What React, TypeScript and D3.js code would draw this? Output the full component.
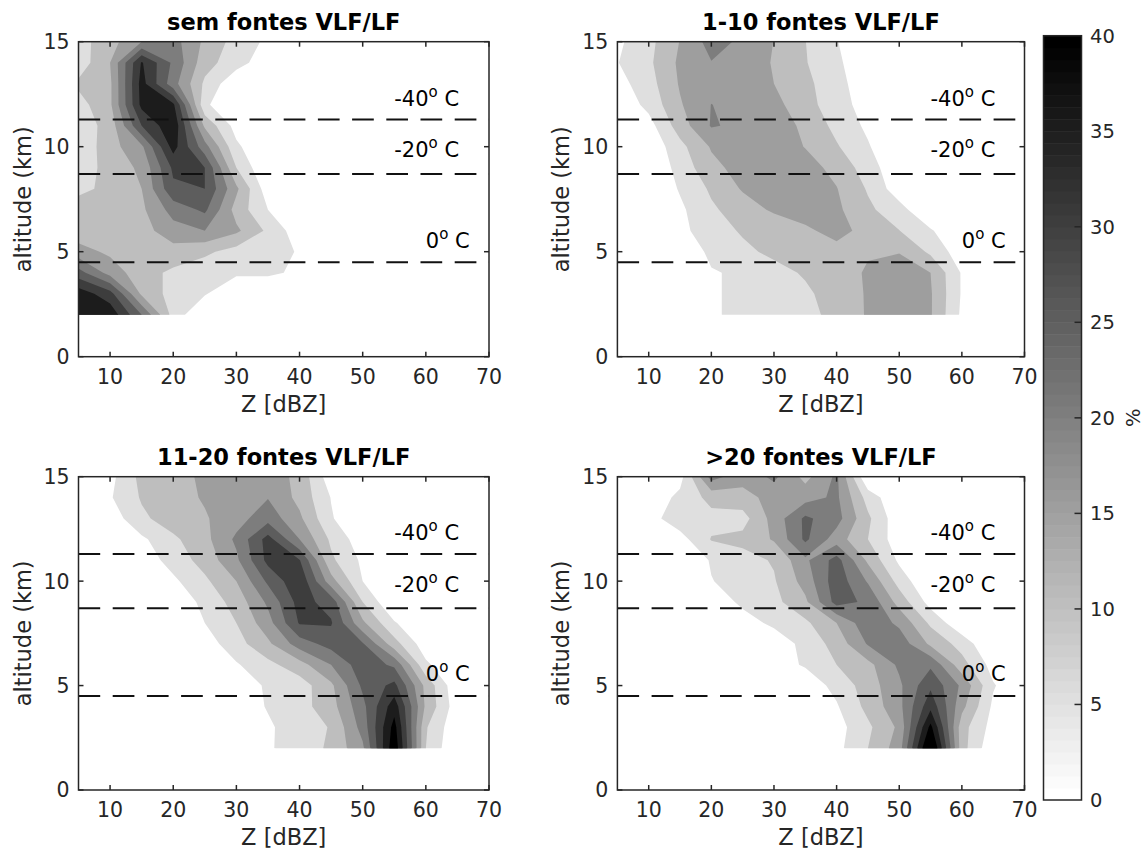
import React from 'react';
import * as d3 from 'd3';

// ---- data -------------------------------------------------------------
const dbzBins = [5, 10, 15, 20, 25, 30, 35, 40, 45, 50, 55, 60, 65, 70];
const altBins = [15, 14, 13, 12, 11, 10, 9, 8, 7, 6, 5, 4, 3, 2];

// frequency (%) per altitude row (top = 15 km) and reflectivity column
const semFontes = [
  [8, 13, 20, 22, 14, 8, 4, 0, 0, 0, 0, 0, 0, 0],
  [7, 15, 35.5, 24, 12, 7, 2, 0, 0, 0, 0, 0, 0, 0],
  [11, 14, 37, 22, 9, 1, 0, 0, 0, 0, 0, 0, 0, 0],
  [8, 14, 36.5, 36, 6, 0, 0, 0, 0, 0, 0, 0, 0, 0],
  [7, 12, 30, 39, 14, 3, 0, 0, 0, 0, 0, 0, 0, 0],
  [6, 13, 19, 37, 22, 6, 0, 0, 0, 0, 0, 0, 0, 0],
  [7, 12, 16, 31, 30, 10, 0, 0, 0, 0, 0, 0, 0, 0],
  [9, 11, 15, 29, 30, 16, 2, 0, 0, 0, 0, 0, 0, 0],
  [12, 12, 14, 22, 26, 13, 5, 0, 0, 0, 0, 0, 0, 0],
  [12, 12, 13, 18, 20, 16, 9, 2, 0, 0, 0, 0, 0, 0],
  [17, 14, 13, 13, 11, 8, 7, 4.6, 0, 0, 0, 0, 0, 0],
  [27, 18, 12, 9, 7, 6, 6, 4, 0, 0, 0, 0, 0, 0],
  [38, 32, 14, 8, 5.5, 0, 0, 0, 0, 0, 0, 0, 0, 0],
  [39, 38.5, 25, 8, 0, 0, 0, 0, 0, 0, 0, 0, 0, 0],
];

const fontes1a10 = [
  [4, 8.5, 15.2, 22, 19, 14.9, 10.1, 5.3, 0, 0, 0, 0, 0, 0],
  [4.8, 9, 16, 19.8, 18, 14.6, 10.3, 6.3, 0, 0, 0, 0, 0, 0],
  [3, 8, 15.5, 18, 18, 15, 11, 7.5, 0.5, 0, 0, 0, 0, 0],
  [1, 6.5, 14.5, 20.1, 18, 16.5, 12, 7, 3, 0, 0, 0, 0, 0],
  [0, 3, 12.5, 20.4, 19, 17.5, 14, 8.5, 4, 0, 0, 0, 0, 0],
  [0, 1, 8.5, 15.5, 19, 18, 14.8, 10.5, 5.5, 0, 0, 0, 0, 0],
  [0, 0, 7, 13.5, 17, 18.5, 17, 13.5, 7.5, 1, 0, 0, 0, 0],
  [0, 0, 5.5, 10.8, 15.5, 17.5, 17.5, 15.2, 9.5, 2, 0, 0, 0, 0],
  [0, 0, 4, 9.2, 12.5, 15.8, 17, 16, 11, 7, 0, 0, 0, 0],
  [0, 0, 3.5, 8, 10.5, 11.5, 14.2, 16.5, 13.5, 10.1, 5.6, 0, 0, 0],
  [0, 0, 0, 6.5, 9, 11, 12.5, 13.5, 14.6, 14.8, 9, 2, 0, 0],
  [0, 0, 0, 4.5, 6, 8.5, 10.5, 13, 15.5, 17, 15, 4.5, 0, 0],
  [0, 0, 0, 4.5, 6, 7.5, 9.2, 12, 15.5, 17.5, 15.5, 4.5, 0, 0],
  [0, 0, 0, 4.5, 6, 7, 8.5, 11.5, 15.5, 17, 15.5, 4, 0, 0],
];

const fontes11a20 = [
  [0, 3.5, 11.5, 13, 16, 18, 18, 13.5, 2, 0, 0, 0, 0, 0],
  [0, 4.5, 10.5, 13, 15.5, 18.5, 19.8, 13.5, 4.8, 0, 0, 0, 0, 0],
  [0, 2, 9, 12.5, 14.5, 18, 23, 16, 5.5, 0, 0, 0, 0, 0],
  [0, 0, 4, 9, 13.5, 21, 32, 20, 9, 2, 0, 0, 0, 0],
  [0, 0, 2, 7, 12, 19, 31.5, 30.3, 11, 4, 0, 0, 0, 0],
  [0, 0, 0, 4, 9, 15, 26, 34, 17, 5, 0, 0, 0, 0],
  [0, 0, 0, 1, 6.5, 12, 21, 32, 28, 10, 0, 0, 0, 0],
  [0, 0, 0, 0, 5, 10, 18, 30.5, 30.5, 16, 5.5, 0, 0, 0],
  [0, 0, 0, 0, 2.5, 8, 14, 22.5, 27, 25.5, 12, 2, 0, 0],
  [0, 0, 0, 0, 0, 4.5, 8.5, 13, 20, 28, 24, 6, 0, 0],
  [0, 0, 0, 0, 0, 1, 6, 7.5, 14, 26, 31.5, 13.5, 1, 0],
  [0, 0, 0, 0, 0, 1, 5.5, 8, 13, 23.5, 38, 14, 2, 0],
  [0, 0, 0, 0, 0, 0, 4, 8.5, 10.2, 22, 42, 10.5, 1, 0],
  [0, 0, 0, 0, 0, 0, 4.5, 7, 11, 19, 44, 10, 0, 0],
];

const fontesMais20 = [
  [0, 0, 3, 22, 17, 21, 13.5, 21, 0, 0, 0, 0, 0, 0],
  [0, 1, 6.5, 11.5, 13, 17, 18, 21, 8, 0.5, 0, 0, 0, 0],
  [0, 3, 8, 8.5, 8, 17, 26, 22, 11, 1.5, 0, 0, 0, 0],
  [0, 0, 3, 10.3, 11.5, 15.5, 26, 17.5, 10, 2, 0, 0, 0, 0],
  [0, 0, 0, 5.5, 8, 10.5, 19, 27, 14, 4, 0, 0, 0, 0],
  [0, 0, 0, 4.8, 7, 9.5, 17, 28, 19.5, 8, 0, 0, 0, 0],
  [0, 0, 0, 2, 6, 8.5, 14, 27, 24, 13, 3, 0, 0, 0],
  [0, 0, 0, 0, 3, 6, 9, 15, 23.5, 19, 9, 1, 0, 0],
  [0, 0, 0, 0, 0, 2, 6.5, 12, 20.5, 23, 14, 8, 0, 0],
  [0, 0, 0, 0, 0, 3, 5.5, 10, 13.5, 21, 24, 12, 3, 0],
  [0, 0, 0, 0, 0, 0, 2, 6.5, 12.5, 19, 29, 19, 5.5, 0],
  [0, 0, 0, 0, 0, 0, 0, 4.5, 11.5, 18.5, 33.5, 16.5, 4, 0],
  [0, 0, 0, 0, 0, 0, 0, 3, 9, 16, 41.5, 12, 3, 0],
  [0, 0, 0, 0, 0, 0, 0, 3.5, 10, 17.5, 48, 12, 1, 0],
];

const panelTitles = ['sem fontes VLF/LF', '1-10 fontes VLF/LF', '11-20 fontes VLF/LF', '>20 fontes VLF/LF'];
const contourLevels = [5, 10, 15, 20, 25, 30, 35, 40];
const xTickValues = [10, 20, 30, 40, 50, 60, 70];
const yTickValues = [0, 5, 10, 15];
const colorbarTicks = [0, 5, 10, 15, 20, 25, 30, 35, 40];
const isothermAlt = [11.3, 8.7, 4.5];
const isothermLabel = ['-40', '-20', '0'];
const isothermLabelDbz = [55, 55, 60];
const isothermLabelAlt = [11.95, 9.5, 5.2];

// ---- styling / layout ---------------------------------------------------
const FONT = 'DejaVu Sans, Verdana, sans-serif';
const AXIS_COLOR = '#262626';
const CMAX = 40;

function grayFor(v: number) {
  const idx = Math.min(63, Math.max(0, Math.floor((v / CMAX) * 64)));
  const g = Math.round(255 * (1 - idx / 63));
  return `rgb(${g},${g},${g})`;
}

type PanelProps = {
  id: string;
  grid: number[][];
  title: string;
  left: number;
  right: number;
  top: number;
  bottom: number;
};

function Panel({ id, grid, title, left, right, top, bottom }: PanelProps) {
  const x = d3.scaleLinear().domain([5, 70]).range([left, right]);
  const y = d3.scaleLinear().domain([0, 15]).range([bottom, top]);

  const n = dbzBins.length;
  const m = altBins.length;
  const altAsc = altBins.slice().reverse();
  const rowsAsc = grid.slice().reverse();
  const values = rowsAsc.flat();
  const contours = d3.contours().size([n, m]).thresholds(contourLevels)(values);
  const dStep = dbzBins[1] - dbzBins[0];
  const aStep = altAsc[1] - altAsc[0];
  const gx = (u: number) => x(dbzBins[0] + (u - 0.5) * dStep);
  const gy = (v: number) => y(altAsc[0] + (v - 0.5) * aStep);
  const pathOf = (mp: any) =>
    mp.coordinates
      .map((poly: number[][][]) =>
        poly
          .map((ring) => 'M' + ring.map((p) => `${gx(p[0]).toFixed(2)},${gy(p[1]).toFixed(2)}`).join('L') + 'Z')
          .join('')
      )
      .join('');

  const dMin = dbzBins[0];
  const dMax = dbzBins[n - 1];
  const aMin = altAsc[0];
  const aMax = altAsc[m - 1];
  const tickLen = 5;
  const midX = (left + right) / 2;
  const midY = (top + bottom) / 2;

  return (
    <g>
      <defs>
        <clipPath id={`clip-${id}`}>
          <rect x={x(dMin)} y={y(aMax)} width={x(dMax) - x(dMin)} height={y(aMin) - y(aMax)} />
        </clipPath>
      </defs>
      <g clipPath={`url(#clip-${id})`}>
        {contours.map((c: any, i: number) => (
          <path key={i} d={pathOf(c)} fill={grayFor(c.value)} fillRule="evenodd" stroke="none" />
        ))}
      </g>
      {/* isotherms */}
      {isothermAlt.map((a, i) => (
        <line
          key={`iso-${i}`}
          x1={x(5)}
          x2={x(70)}
          y1={y(a)}
          y2={y(a)}
          stroke="#111"
          strokeWidth={2}
          strokeDasharray="21.7 12.5"
        />
      ))}
      {isothermLabel.map((t, i) => (
        <text
          key={`isol-${i}`}
          x={x(isothermLabelDbz[i])}
          y={y(isothermLabelAlt[i])}
          fontFamily={FONT}
          fontSize={21}
          fill="#000"
        >
          {t}
          <tspan dy={-9} fontSize={15}>o</tspan>
          <tspan dy={9}> C</tspan>
        </text>
      ))}
      {/* box */}
      <rect x={left} y={top} width={right - left} height={bottom - top} fill="none" stroke={AXIS_COLOR} strokeWidth={1.5} />
      {/* x ticks */}
      {xTickValues.map((t) => (
        <g key={`xt-${t}`}>
          <line x1={x(t)} x2={x(t)} y1={bottom} y2={bottom - tickLen} stroke={AXIS_COLOR} strokeWidth={1.5} />
          <line x1={x(t)} x2={x(t)} y1={top} y2={top + tickLen} stroke={AXIS_COLOR} strokeWidth={1.5} />
          <text x={x(t)} y={bottom + 27} textAnchor="middle" fontFamily={FONT} fontSize={20.5} fill={AXIS_COLOR}>
            {t}
          </text>
        </g>
      ))}
      {/* y ticks */}
      {yTickValues.map((t) => (
        <g key={`yt-${t}`}>
          <line x1={left} x2={left + tickLen} y1={y(t)} y2={y(t)} stroke={AXIS_COLOR} strokeWidth={1.5} />
          <line x1={right} x2={right - tickLen} y1={y(t)} y2={y(t)} stroke={AXIS_COLOR} strokeWidth={1.5} />
          <text x={left - 9} y={y(t)} dy="0.36em" textAnchor="end" fontFamily={FONT} fontSize={20.5} fill={AXIS_COLOR}>
            {t}
          </text>
        </g>
      ))}
      <text x={midX} y={top - 12} textAnchor="middle" fontFamily={FONT} fontSize={22.5} fontWeight="bold" fill="#000">
        {title}
      </text>
      <text x={midX} y={bottom + 55} textAnchor="middle" fontFamily={FONT} fontSize={22.5} fill={AXIS_COLOR}>
        Z [dBZ]
      </text>
      <text
        transform={`translate(${left - 48},${midY}) rotate(-90)`}
        textAnchor="middle"
        fontFamily={FONT}
        fontSize={22.5}
        fill={AXIS_COLOR}
      >
        altitude (km)
      </text>
    </g>
  );
}

function Colorbar() {
  const left = 1043.5;
  const right = 1081.5;
  const top = 35.7;
  const bottom = 800;
  const c = d3.scaleLinear().domain([0, CMAX]).range([bottom, top]);
  const steps = d3.range(64);
  return (
    <g>
      {steps.map((k) => {
        const v0 = (k * CMAX) / 64;
        const v1 = ((k + 1) * CMAX) / 64;
        const g = Math.round(255 * (1 - k / 63));
        return (
          <rect
            key={k}
            x={left}
            y={c(v1)}
            width={right - left}
            height={c(v0) - c(v1) + 0.5}
            fill={`rgb(${g},${g},${g})`}
          />
        );
      })}
      <rect x={left} y={top} width={right - left} height={bottom - top} fill="none" stroke={AXIS_COLOR} strokeWidth={1.5} />
      {colorbarTicks.map((t) => (
        <g key={t}>
          {t > 0 && t < CMAX && (
            <line x1={right} x2={right - 7} y1={c(t)} y2={c(t)} stroke={AXIS_COLOR} strokeWidth={1.5} />
          )}
          <text x={1090} y={c(t)} dy="0.36em" fontFamily={FONT} fontSize={19.5} fill={AXIS_COLOR}>
            {t}
          </text>
        </g>
      ))}
      <text
        transform={`translate(1140,${(top + bottom) / 2}) rotate(-90)`}
        textAnchor="middle"
        fontFamily={FONT}
        fontSize={19.5}
        fill={AXIS_COLOR}
      >
        %
      </text>
    </g>
  );
}

export default function App() {
  const grids = [semFontes, fontes1a10, fontes11a20, fontesMais20];
  const frames = [
    { left: 78.5, right: 489, top: 41.7, bottom: 356.7 },
    { left: 617.4, right: 1024.5, top: 41.7, bottom: 356.7 },
    { left: 78.5, right: 489, top: 476.7, bottom: 790 },
    { left: 617.4, right: 1024.5, top: 476.7, bottom: 790 },
  ];
  return (
    <svg
      width={1147}
      height={854}
      viewBox="0 0 1147 854"
      style={{ position: 'absolute', left: 0, top: 0, background: '#fff' }}
    >
      <rect x={0} y={0} width={1147} height={854} fill="#fff" />
      {grids.map((g, i) => (
        <Panel key={i} id={`p${i}`} grid={g} title={panelTitles[i]} {...frames[i]} />
      ))}
      <Colorbar />
    </svg>
  );
}
